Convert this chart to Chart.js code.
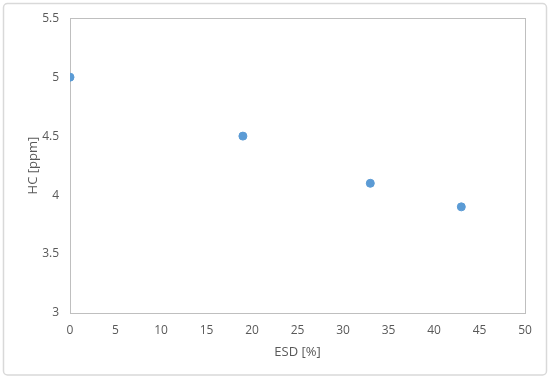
<!DOCTYPE html>
<html>
<head>
<meta charset="utf-8">
<script src="https://cdn.jsdelivr.net/npm/chart.js@4"></script>
<style>
html,body{margin:0;padding:0;background:#fff;}
#wrap{width:550px;height:380px;position:relative;}
</style>
</head>
<body>
<div id="wrap"><canvas id="c" width="550" height="380"></canvas></div>
<script>
const esd = [0, 19, 33, 43];
const hc = [5.0, 4.5, 4.1, 3.9];
const xTicks = [0, 5, 10, 15, 20, 25, 30, 35, 40, 45, 50];
const yTicks = [3, 3.5, 4, 4.5, 5, 5.5];

const points = esd.map((x, i) => ({x: x, y: hc[i]}));
const textColor = '#595959';
const fontFam = '"Open Sans", "Liberation Sans", sans-serif';

const frame = {
  id: 'frame',
  beforeDraw(chart) {
    const ctx = chart.ctx;
    ctx.save();
    ctx.fillStyle = '#fff';
    ctx.fillRect(0, 0, chart.width, chart.height);
    ctx.strokeStyle = '#d9d9d9';
    ctx.lineWidth = 1.5;
    const r = 4, x0 = 3.5, y0 = 3.5, x1 = 546.5, y1 = 375;
    ctx.beginPath();
    ctx.moveTo(x0 + r, y0);
    ctx.lineTo(x1 - r, y0);
    ctx.arcTo(x1, y0, x1, y0 + r, r);
    ctx.lineTo(x1, y1 - r);
    ctx.arcTo(x1, y1, x1 - r, y1, r);
    ctx.lineTo(x0 + r, y1);
    ctx.arcTo(x0, y1, x0, y1 - r, r);
    ctx.lineTo(x0, y0 + r);
    ctx.arcTo(x0, y0, x0 + r, y0, r);
    ctx.closePath();
    ctx.stroke();
    ctx.restore();
  },
  beforeDatasetsDraw(chart) {
    const a = chart.chartArea;
    const ctx = chart.ctx;
    ctx.save();
    ctx.strokeStyle = '#bfbfbf';
    ctx.lineWidth = 1;
    ctx.strokeRect(Math.round(a.left) + 0.5, Math.round(a.top) + 0.5,
                   Math.round(a.right - a.left), Math.round(a.bottom - a.top));
    ctx.restore();
  }
};

new Chart(document.getElementById('c'), {
  type: 'scatter',
  data: {
    datasets: [{
      data: points,
      backgroundColor: '#5b9bd5',
      borderColor: '#5b9bd5',
      pointRadius: 4,
      pointHoverRadius: 4
    }]
  },
  options: {
    responsive: false,
    animation: false,
    layout: {padding: {left: 0, right: 25, top: 18, bottom: 0}},
    plugins: {legend: {display: false}, tooltip: {enabled: false}},
    scales: {
      x: {
        type: 'linear',
        min: 0, max: 50,
        afterBuildTicks: s => { s.ticks = xTicks.map(v => ({value: v})); },
        afterFit: s => { s.height = 67; },
        grid: {display: false, drawTicks: false},
        border: {display: false},
        ticks: {color: textColor, font: {family: fontFam, size: 12}, padding: 10, maxRotation: 0},
        title: {display: true, text: 'ESD [%]', color: textColor,
                font: {family: fontFam, size: 13}, padding: {top: 0, bottom: 20}}
      },
      y: {
        type: 'linear',
        min: 3, max: 5.5,
        afterBuildTicks: s => { s.ticks = yTicks.map(v => ({value: v})); },
        afterFit: s => { s.width = 70; },
        grid: {display: false, drawTicks: false},
        border: {display: false},
        ticks: {color: textColor, font: {family: fontFam, size: 12}, padding: 11,
                callback: v => String(v)},
        title: {display: true, text: 'HC [ppm]', color: textColor,
                font: {family: fontFam, size: 13}, padding: {top: 25, bottom: 0}}
      }
    }
  },
  plugins: [frame]
});
</script>
</body>
</html>
